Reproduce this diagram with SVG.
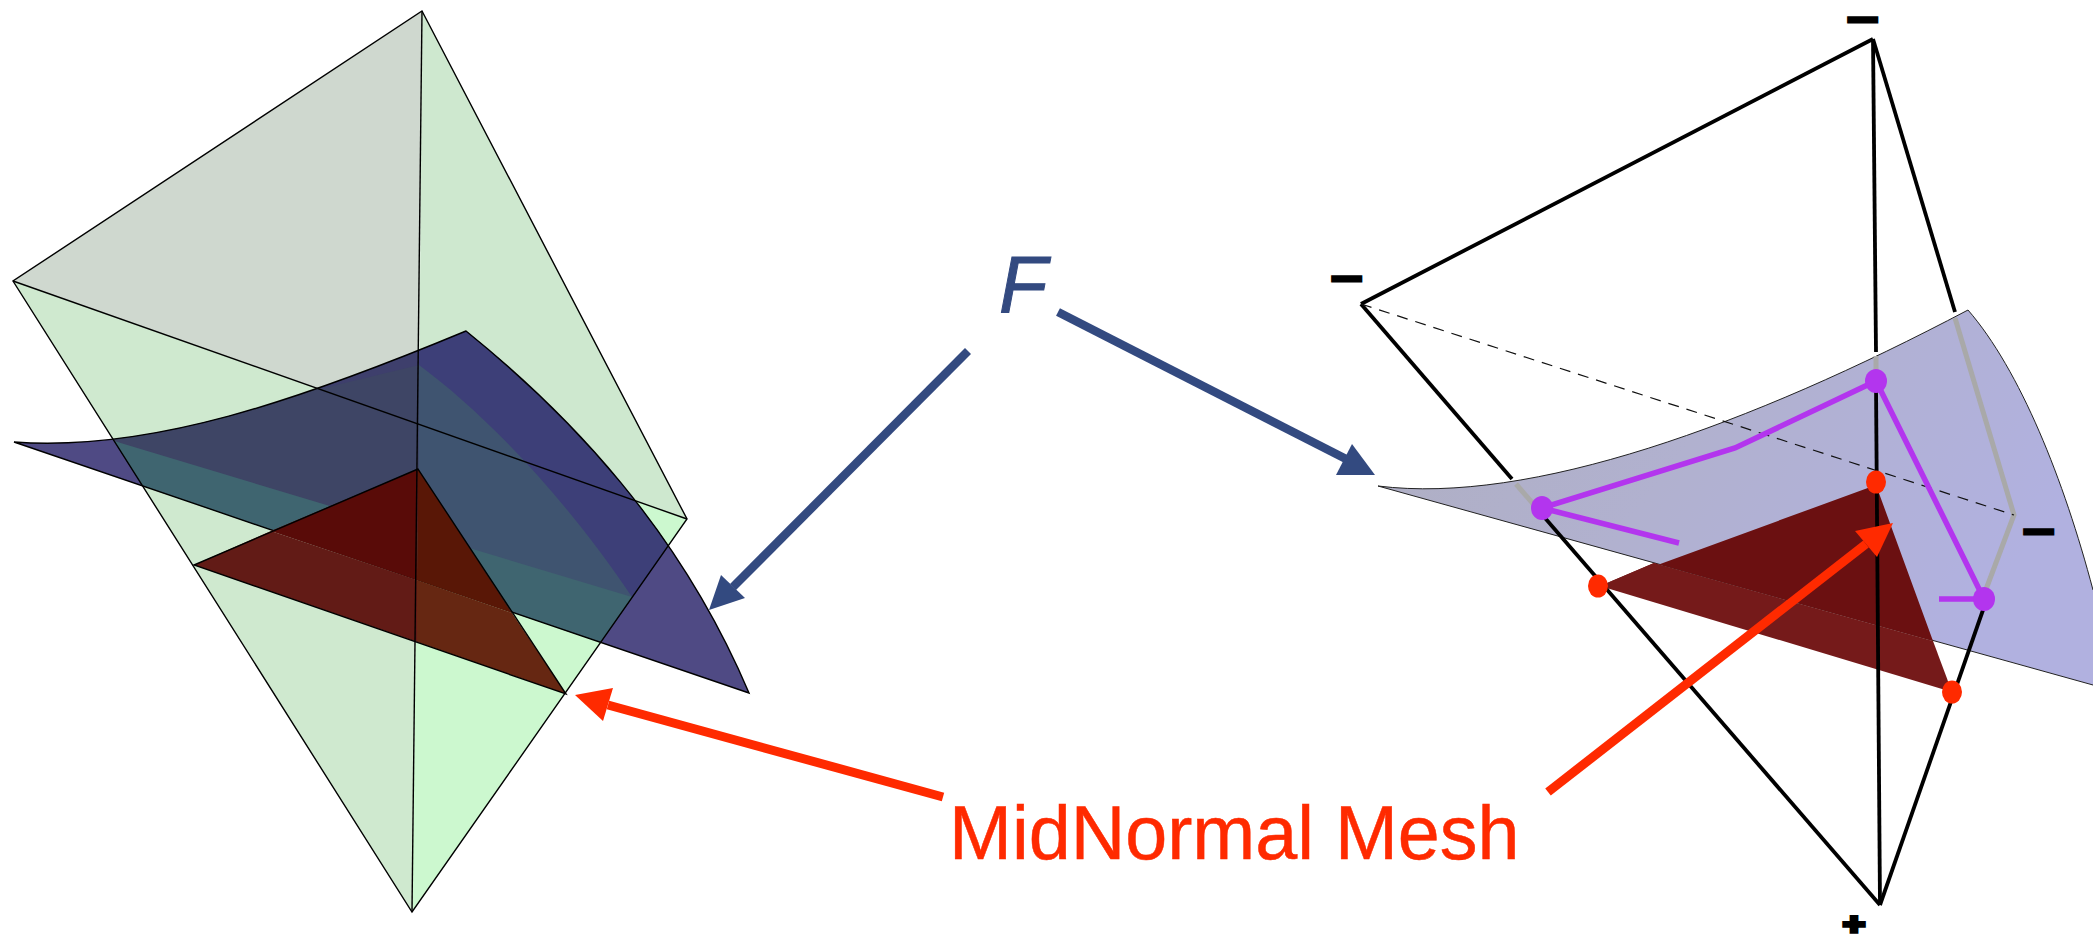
<svg xmlns="http://www.w3.org/2000/svg" width="2093" height="941" viewBox="0 0 2093 941">
<style>
.thin{fill:none;stroke:#000;stroke-width:1.4}
.edge{fill:none;stroke:#000;stroke-width:3.8}
.gray{fill:none;stroke:#a9a9a9;stroke-width:5}
.pur{fill:none;stroke:#b335ee;stroke-width:5.5}
.sign{font-family:"Liberation Sans",Arial,sans-serif;font-weight:bold;fill:#000;stroke:#000;stroke-width:3.6;text-anchor:middle}
.bl{stroke:#334a80;stroke-width:8.5;fill:none}
.re{stroke:#ff2a00;stroke-width:9;fill:none}
</style>
<defs>
<clipPath id="tetClip"><polygon points="422,11 687,519 412,912 13,281"/></clipPath>
<clipPath id="surfClip"><path d="M14,442 C150,452 300,400 466,331 C570,415 680,530 749,693 Z"/></clipPath>
<linearGradient id="surfGrad" x1="0" y1="0" x2="1" y2="0.4"><stop offset="0" stop-color="#aeaec0"/><stop offset="0.5" stop-color="#b1b1cf"/><stop offset="1" stop-color="#b1b1e0"/></linearGradient>
</defs>
<rect width="2093" height="941" fill="#fff"/>
<g id="left-figure">
<polygon points="422,11 13,281 419,424" fill="#cfd8cf"/>
<polygon points="422,11 687,519 419,424" fill="#cee8cf"/>
<polygon points="13,281 419,424 412,912" fill="#cfe9cf"/>
<polygon points="419,424 687,519 412,912" fill="#ccf8cf"/>
<g id="surface-left">
<path d="M14,442 C150,452 300,400 466,331 C570,415 680,530 749,693 Z" fill="#4f4a84"/>
<g clip-path="url(#surfClip)"><g clip-path="url(#tetClip)">
<rect x="0" y="300" width="800" height="420" fill="#3e4565"/>
<polygon points="419,300 800,300 800,720 419,720" fill="#3f5470"/>
<path d="M419,365 C480,410 560,490 632,597 L800,600 L800,300 L419,300 Z" fill="#3d3f78"/>
<polygon points="320,389 419,365 419,300 320,300" fill="#3e3f6c"/>
<polygon points="114,441 632,597 700,720 0,720 0,441" fill="#3f6570"/>
</g></g>
<path d="M14,442 C150,452 300,400 466,331 C570,415 680,530 749,693 Z" class="thin"/>
</g>
<g id="midnormal-left">
<polygon points="418,469 271,531 417,580" fill="#590b08"/>
<polygon points="418,469 512,613 417,580" fill="#591706"/>
<polygon points="271,531 194,565 417,642 417,580" fill="#621b16"/>
<polygon points="417,580 512,613 566,694 417,642" fill="#662712"/>
<polygon points="418,469 194,565 566,694" class="thin"/>
</g>
<g id="tet-left-edges">
<polygon points="422,11 687,519 412,912 13,281" class="thin"/>
<line x1="13" y1="281" x2="687" y2="519" class="thin"/>
<line x1="422" y1="11" x2="412" y2="912" class="thin"/>
</g>
</g>
<g id="right-figure">
<g id="tet-right-top">
<line x1="1361" y1="304" x2="1873" y2="39" class="edge"/>
<line x1="1873" y1="39" x2="1876" y2="352" class="edge"/>
<line x1="1873" y1="39" x2="1955" y2="312" class="edge"/>
<line x1="1361" y1="304" x2="1512" y2="479" class="edge"/>
</g>
<g id="surface-right">
<path d="M1378,486 C1530,505 1750,425 1968,310 C2020,370 2064,480 2093,590 L2093,685 Z" fill="url(#surfGrad)"/>
<path d="M2093,685 L1378,486 C1530,505 1750,425 1968,310 C2020,370 2064,480 2093,590" fill="none" stroke="#222" stroke-width="1"/>
</g>
<g id="tet-right-hidden">
<line x1="1876" y1="356" x2="1876" y2="375" class="gray"/>
<polyline points="1955,318 2014,515 1985,592" class="gray"/>
<line x1="1516" y1="484" x2="1535" y2="506" class="gray"/>
<line x1="1361" y1="304" x2="2014" y2="515" fill="none" stroke="#111" stroke-width="1.2" stroke-dasharray="11 8"/>
</g>
<g id="midnormal-right">
<polygon points="1600,586 1876,485 1933,641 1654,563" fill="#6b1011"/>
<polygon points="1600,586 1654,563 1933,641 1952,692" fill="#751a1a"/>
</g>
<g id="tet-right-bottom">
<line x1="1876" y1="385" x2="1880" y2="905" class="edge"/>
<line x1="1983" y1="610" x2="1880" y2="905" class="edge"/>
<line x1="1545" y1="518" x2="1880" y2="905" class="edge"/>
</g>
<g id="isoline">
<polyline points="1542,508 1735,448 1876,381 1984,599 1939,599" class="pur"/>
<line x1="1542" y1="508" x2="1679" y2="543" class="pur"/>
</g>
<g id="purple-dots" fill="#b335ee">
<ellipse cx="1542" cy="508" rx="11" ry="12"/>
<ellipse cx="1876" cy="381" rx="11" ry="12"/>
<ellipse cx="1984" cy="599" rx="11" ry="12"/>
</g>
<g id="red-dots" fill="#ff2a00">
<ellipse cx="1598" cy="586" rx="10" ry="11.5"/>
<ellipse cx="1876" cy="482" rx="10" ry="11.5"/>
<ellipse cx="1952" cy="692" rx="10" ry="11.5"/>
</g>
<g id="signs">
<text x="1863" y="31" font-size="34" class="sign" textLength="30" lengthAdjust="spacingAndGlyphs">−</text>
<text x="1347" y="290" font-size="34" class="sign" textLength="30" lengthAdjust="spacingAndGlyphs">−</text>
<text x="2039" y="543" font-size="34" class="sign" textLength="30" lengthAdjust="spacingAndGlyphs">−</text>
<text x="1854" y="934" font-size="29" class="sign" textLength="22" lengthAdjust="spacingAndGlyphs">+</text>
</g>
</g>
<g id="connectors">
<line x1="968" y1="351" x2="733" y2="587" class="bl"/>
<polygon points="709,610 721,575 745,598" fill="#334a80"/>
<line x1="1058" y1="312" x2="1348" y2="460" class="bl"/>
<polygon points="1375,475 1352,444 1336,475" fill="#334a80"/>
<line x1="943" y1="797" x2="608" y2="705" class="re"/>
<polygon points="575,695 613,688 603,721" fill="#ff2a00"/>
<line x1="1548" y1="792" x2="1866" y2="544" class="re"/>
<polygon points="1893,523 1855,531 1877,557" fill="#ff2a00"/>
</g>
<g id="labels">
<text x="999" y="312" font-family="'Liberation Sans',Arial,sans-serif" font-style="italic" font-size="79" fill="#334a80" stroke="#334a80" stroke-width="1">F</text>
<text x="949" y="859" font-family="'Liberation Sans',Arial,sans-serif" font-size="75.5" fill="#ff2a00" stroke="#ff2a00" stroke-width="0.5">MidNormal Mesh</text>
</g>
</svg>
